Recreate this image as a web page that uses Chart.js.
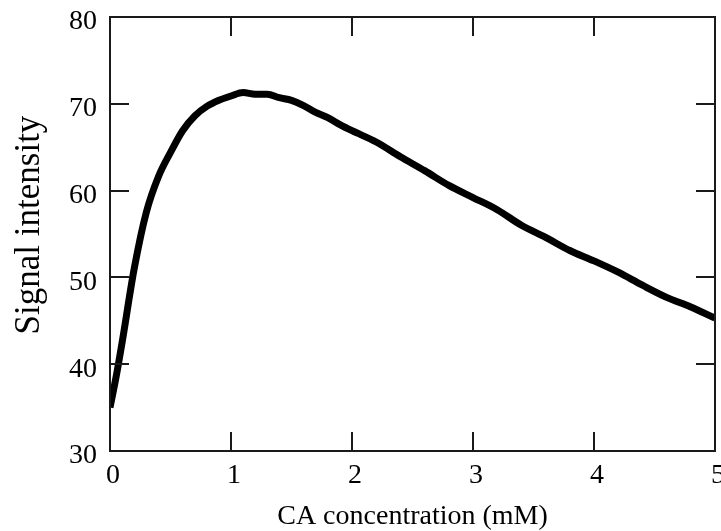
<!DOCTYPE html>
<html>
<head>
<meta charset="utf-8">
<script src="https://cdn.jsdelivr.net/npm/chart.js@4.4.1/dist/chart.umd.min.js"></script>
<style>
  html, body { margin: 0; padding: 0; background: #ffffff; }
  #wrap { width: 721px; height: 531px; position: relative; }
</style>
</head>
<body>
<div id="wrap"><canvas id="c" width="721" height="531"></canvas></div>
<script>
// ---- data ----
const concentration = [0, 0.05, 0.1, 0.2, 0.3, 0.4, 0.5, 0.6, 0.7, 0.8, 0.9, 1.0, 1.1, 1.2, 1.3, 1.4, 1.5, 1.6, 1.7, 1.8, 1.9, 2.0, 2.2, 2.4, 2.6, 2.8, 3.0, 3.2, 3.4, 3.6, 3.8, 4.0, 4.2, 4.4, 4.6, 4.8, 5.0];
const signal = [35.0, 38.5, 42.5, 51.0, 57.5, 61.6, 64.4, 66.9, 68.6, 69.7, 70.4, 70.9, 71.3, 71.1, 71.1, 70.7, 70.4, 69.8, 69.0, 68.4, 67.6, 66.9, 65.6, 63.9, 62.3, 60.6, 59.2, 57.8, 56.0, 54.6, 53.1, 51.9, 50.6, 49.1, 47.7, 46.6, 45.3];
const xTicks = [0, 1, 2, 3, 4, 5];
const yTicks = [30, 40, 50, 60, 70, 80];
const xTitle = 'CA concentration (mM)';
const yTitle = 'Signal intensity';

const points = concentration.map((x, i) => ({ x: x, y: signal[i] }));
const serif = "'Liberation Serif', 'Times New Roman', serif";

const framePlugin = {
  id: 'frame',
  afterDraw(chart) {
    const ctx = chart.ctx;
    const a = chart.chartArea;
    const xs = chart.scales.x, ys = chart.scales.y;
    const tl = 19;
    ctx.save();
    ctx.strokeStyle = '#1a1a1a';
    ctx.lineWidth = 2;
    ctx.strokeRect(a.left, a.top, a.right - a.left, a.bottom - a.top);
    ctx.beginPath();
    xTicks.forEach(v => {
      const px = Math.round(xs.getPixelForValue(v));
      ctx.moveTo(px, a.bottom); ctx.lineTo(px, a.bottom - tl);
      ctx.moveTo(px, a.top); ctx.lineTo(px, a.top + tl);
    });
    yTicks.forEach(v => {
      const py = Math.round(ys.getPixelForValue(v));
      ctx.moveTo(a.left, py); ctx.lineTo(a.left + tl, py);
      ctx.moveTo(a.right, py); ctx.lineTo(a.right - tl, py);
    });
    ctx.stroke();
    // axis titles
    ctx.fillStyle = '#000';
    ctx.textAlign = 'center';
    ctx.textBaseline = 'middle';
    ctx.font = '28px ' + serif;
    ctx.fillText(xTitle, (a.left + a.right) / 2, 517);
    ctx.translate(30, 225);
    ctx.rotate(-Math.PI / 2);
    ctx.font = '35px ' + serif;
    ctx.fillText(yTitle, 0, 0);
    ctx.restore();
  }
};

new Chart(document.getElementById('c'), {
  type: 'line',
  data: {
    datasets: [{
      data: points,
      borderColor: '#000000',
      borderWidth: 7,
      pointRadius: 0,
      fill: false,
      cubicInterpolationMode: 'monotone',
      borderCapStyle: 'butt',
      borderJoinStyle: 'round'
    }]
  },
  options: {
    responsive: false,
    animation: false,
    devicePixelRatio: 1,
    layout: { padding: { left: 0, top: 17, right: 6, bottom: 0 } },
    plugins: { legend: { display: false }, tooltip: { enabled: false } },
    scales: {
      x: {
        type: 'linear', min: 0, max: 5,
        afterBuildTicks: s => { s.ticks = xTicks.map(v => ({ value: v })); },
        afterFit: s => { s.height = 80; s.paddingLeft = 0; s.paddingRight = 0; },
        grid: { display: false, drawTicks: false },
        border: { display: false },
        ticks: { color: '#000', font: { family: serif, size: 28 }, padding: 8, labelOffset: 3, maxRotation: 0 }
      },
      y: {
        type: 'linear', min: 30, max: 80,
        afterBuildTicks: s => { s.ticks = yTicks.map(v => ({ value: v })); },
        afterFit: s => { s.width = 110; s.paddingTop = 0; s.paddingBottom = 0; },
        grid: { display: false, drawTicks: false },
        border: { display: false },
        ticks: { color: '#000', font: { family: serif, size: 28 }, padding: 13, labelOffset: 5 }
      }
    }
  },
  plugins: [framePlugin]
});
</script>
</body>
</html>
